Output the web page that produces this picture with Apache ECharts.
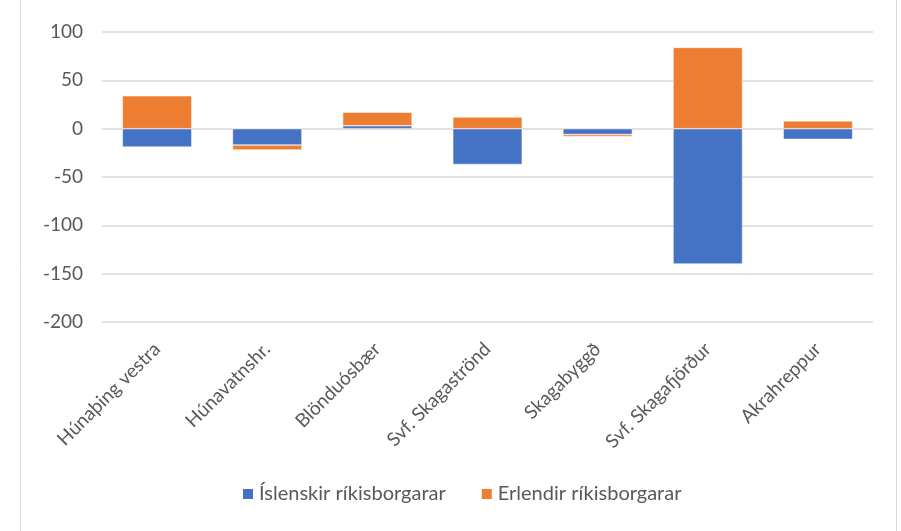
<!DOCTYPE html>
<html>
<head>
<meta charset="utf-8">
<script src="https://cdn.jsdelivr.net/npm/echarts@6/dist/echarts.min.js"></script>
<style>
html,body{margin:0;padding:0;background:#fff;}
#chart{width:901px;height:531px;}
</style>
</head>
<body>
<div id="chart"></div>
<script>
var categories = ['Húnaþing vestra', 'Húnavatnshr.', 'Blönduósbær', 'Svf. Skagaströnd', 'Skagabyggð', 'Svf. Skagafjörður', 'Akrahreppur'];
var islenskir = [-19, -17, 3, -37, -6, -140, -11];
var erlendir = [34, -5, 14, 12, -2, 84, 8];
var yTicks = {min: -200, max: 100, interval: 50};

var myChart = echarts.init(document.getElementById('chart'));
var font = 'Lato';
var option = {
    animation: false,
    textStyle: {fontFamily: font},
    graphic: [{
        type: 'rect',
        shape: {x: 20.5, y: -5, width: 876, height: 545},
        style: {fill: 'none', stroke: '#d9d9d9', lineWidth: 1}
    }],
    grid: {left: 102, right: 28, top: 32, bottom: 209},
    legend: {
        bottom: 22,
        left: 236,
        itemWidth: 12,
        itemHeight: 12,
        itemGap: 34,
        icon: 'rect',
        textStyle: {fontSize: 20, color: '#595959', fontFamily: font},
        data: ['Íslenskir ríkisborgarar', 'Erlendir ríkisborgarar']
    },
    xAxis: {
        type: 'category',
        data: categories,
        axisLine: {show: false, onZero: false},
        axisTick: {show: false},
        axisLabel: {rotate: 45, fontSize: 19, color: '#595959', margin: 24, interval: 0}
    },
    yAxis: {
        type: 'value',
        min: yTicks.min,
        max: yTicks.max,
        interval: yTicks.interval,
        axisLine: {show: false},
        axisTick: {show: false},
        axisLabel: {fontSize: 19, color: '#595959', margin: 19},
        splitLine: {lineStyle: {color: '#d9d9d9', width: 1.5}}
    },
    series: [{
        name: 'Íslenskir ríkisborgarar',
        type: 'bar',
        stack: 'total',
        barWidth: '63%',
        data: islenskir,
        itemStyle: {color: '#4472C4', borderColor: '#ffffff', borderWidth: 0.5}
    }, {
        name: 'Erlendir ríkisborgarar',
        type: 'bar',
        stack: 'total',
        barWidth: '63%',
        data: erlendir,
        itemStyle: {color: '#ED7D31', borderColor: '#ffffff', borderWidth: 0.5}
    }]
};
myChart.setOption(option);
</script>
</body>
</html>
